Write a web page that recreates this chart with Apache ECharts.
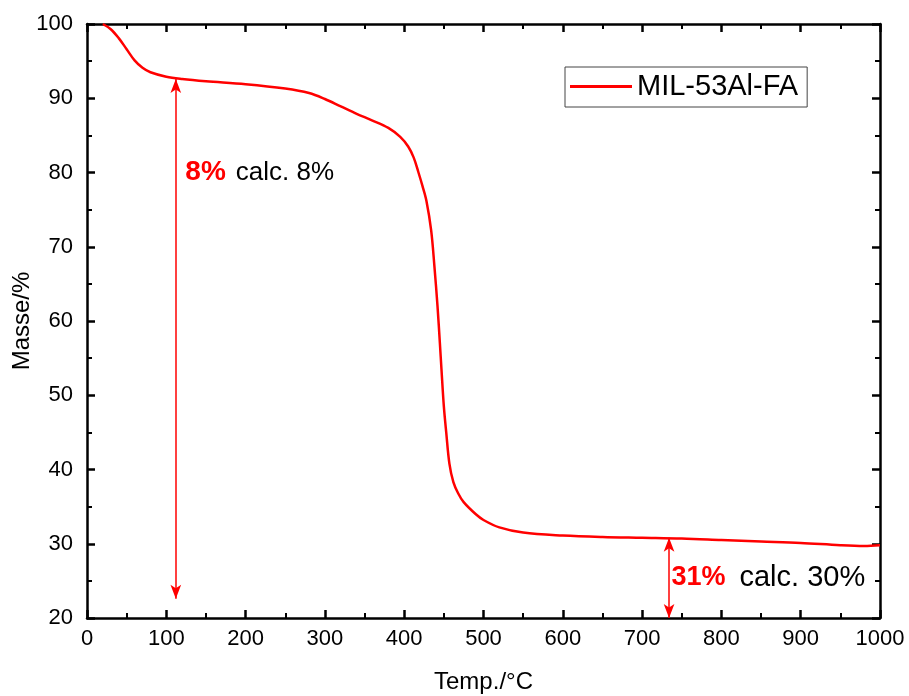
<!DOCTYPE html>
<html><head><meta charset="utf-8">
<script src="https://cdn.jsdelivr.net/npm/echarts@6/dist/echarts.min.js"></script>
<style>html,body{margin:0;padding:0;background:#fff}#c{width:909px;height:696px}</style>
</head><body><div id="c"></div>
<script>
const seriesName = 'MIL-53Al-FA';
const temps  = [20, 30, 40, 50, 60, 70, 80, 100, 120, 150, 200, 250, 280, 300, 320, 340, 360, 380, 395, 405, 412, 418, 423, 428, 434, 438, 442, 445, 447, 450, 453, 457, 462, 468, 475, 490, 500, 520, 550, 600, 650, 700, 750, 800, 850, 900, 950, 980, 1000];
const masses = [100, 99.3, 98.1, 96.6, 95.1, 94.1, 93.5, 92.9, 92.6, 92.3, 91.9, 91.3, 90.7, 89.9, 88.9, 87.9, 87.0, 86.0, 84.8, 83.5, 82.0, 80.0, 78.2, 76.2, 72.2, 67.5, 62.0, 57.0, 53.5, 48.5, 45.0, 40.8, 38.3, 36.8, 35.6, 34.0, 33.2, 32.2, 31.5, 31.1, 30.9, 30.8, 30.7, 30.5, 30.3, 30.1, 29.8, 29.7, 29.8];
const xTicks = {min: 0, max: 1000, interval: 100};
const yTicks = {min: 20, max: 100, interval: 10};
// annotations: [x, yTop, yBottom]
const arrow1 = [112, 92.6, 22.6];
const arrow2 = [734, 30.8, 20];
// text annotations: [x, y, bold text, plain text]
const note1 = [124, 80, '8%', 'calc. 8%'];
const note2 = [737, 25.4, '31%', 'calc. 30%'];

const pairs = temps.map((t, i) => [t, masses[i]]);
const FONT = "'Liberation Sans', Arial, sans-serif";
const axisCommon = {
  axisLine: {show: true, onZero: false, lineStyle: {color: '#000', width: 2.5}},
  axisTick: {show: true, inside: true, length: 8, lineStyle: {color: '#000', width: 2.5}},
  minorTick: {show: true, splitNumber: 2, length: 5, lineStyle: {color: '#000', width: 2}},
  splitLine: {show: false}
};
const chart = echarts.init(document.getElementById('c'));
chart.setOption({
  animation: false,
  backgroundColor: '#fff',
  grid: {left: 87, right: 29, top: 24, bottom: 78, containLabel: false, outerBoundsMode: 'none'},
  legend: {
    show: true, left: 565, top: 67, orient: 'horizontal',
    data: [{name: seriesName, icon: 'rect'}],
    itemWidth: 62, itemHeight: 3, itemGap: 8,
    padding: [5, 9, 6, 5],
    borderColor: '#444', borderWidth: 1,
    textStyle: {fontFamily: FONT, fontSize: 29, color: '#000'}
  },
  xAxis: [
    Object.assign({type: 'value', position: 'bottom', min: xTicks.min, max: xTicks.max, interval: xTicks.interval,
      name: 'Temp./°C', nameLocation: 'middle', nameGap: 52, nameMoveOverlap: false,
      nameTextStyle: {fontFamily: FONT, fontSize: 24, color: '#000'},
      axisLabel: {fontFamily: FONT, fontSize: 22, color: '#000', margin: 10, formatter: v => String(v)}}, axisCommon),
    Object.assign({type: 'value', position: 'top', min: xTicks.min, max: xTicks.max, interval: xTicks.interval,
      axisLabel: {show: false}}, axisCommon)
  ],
  yAxis: [
    Object.assign({type: 'value', position: 'left', min: yTicks.min, max: yTicks.max, interval: yTicks.interval,
      name: 'Masse/%', nameLocation: 'middle', nameGap: 53, nameMoveOverlap: false,
      nameTextStyle: {fontFamily: FONT, fontSize: 24, color: '#000'},
      axisLabel: {fontFamily: FONT, fontSize: 22, color: '#000', margin: 14, formatter: v => String(v)}}, axisCommon),
    Object.assign({type: 'value', position: 'right', min: yTicks.min, max: yTicks.max, interval: yTicks.interval,
      axisLabel: {show: false}}, axisCommon)
  ],
  series: [{
    name: seriesName, type: 'line', data: pairs, smooth: 0.35, showSymbol: false,
    xAxisIndex: 0, yAxisIndex: 0,
    itemStyle: {color: '#ff0000'},
    lineStyle: {color: '#ff0000', width: 2.5},
    markLine: {
      silent: true, symbol: ['arrow', 'arrow'], symbolSize: [8, 14],
      lineStyle: {color: '#ff0000', width: 1.5, type: 'solid', opacity: 1},
      itemStyle: {color: '#ff0000'},
      label: {show: false},
      emphasis: {disabled: true},
      data: [
        [{coord: [arrow1[0], arrow1[1]]}, {coord: [arrow1[0], arrow1[2]]}],
        [{coord: [arrow2[0], arrow2[1]]}, {coord: [arrow2[0], arrow2[2]]}]
      ]
    },
    markPoint: {
      silent: true, symbol: 'circle', symbolSize: 0,
      label: {show: true, position: 'right', distance: 0,
        rich: {
          b: {fontFamily: FONT, fontSize: 28, fontWeight: 'bold', color: '#ff0000'},
          n: {fontFamily: FONT, fontSize: 26, color: '#000'},
          s1: {width: 10},
          b2: {fontFamily: FONT, fontSize: 27, fontWeight: 'bold', color: '#ff0000'},
          n2: {fontFamily: FONT, fontSize: 29, color: '#000'},
          s2: {width: 14}
        }},
      data: [
        {coord: [note1[0], note1[1]], label: {formatter: '{b|' + note1[2] + '}{s1|}{n|' + note1[3] + '}'}},
        {coord: [note2[0], note2[1]], label: {formatter: '{b2|' + note2[2] + '}{s2|}{n2|' + note2[3] + '}'}}
      ]
    }
  }]
});
</script></body></html>
